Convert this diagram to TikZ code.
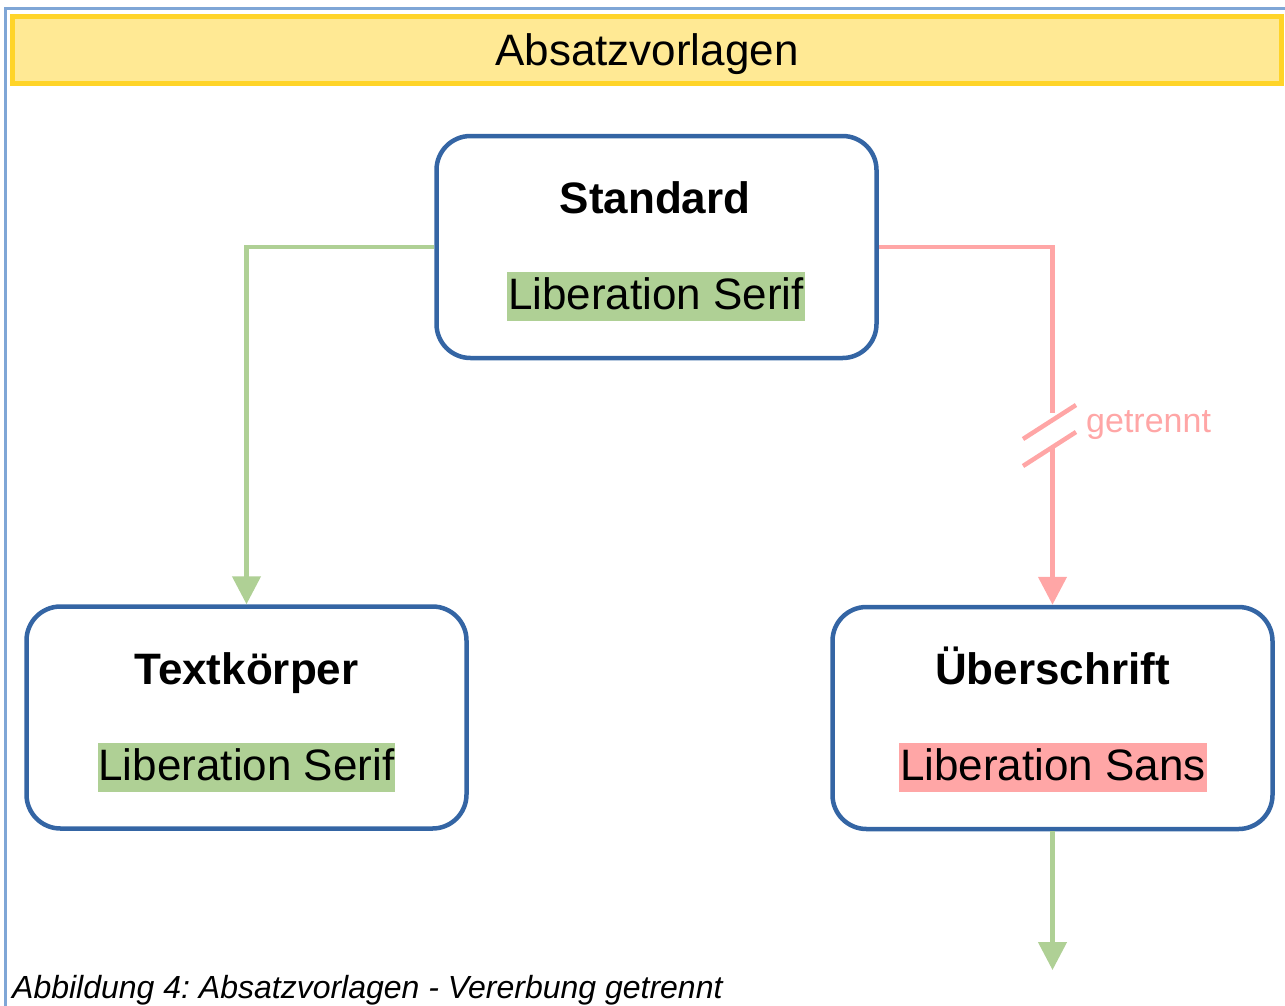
\documentclass[tikz,border=0pt]{standalone}
\usepackage{fontspec}
\setmainfont{Liberation Sans}
\usetikzlibrary{arrows.meta}
\frenchspacing
\definecolor{boxblue}{HTML}{3465A4}
\definecolor{lgreen}{HTML}{AFD095}
\definecolor{lred}{HTML}{FFA6A6}
\definecolor{yfill}{HTML}{FFE994}
\definecolor{ydraw}{HTML}{FFD428}
\definecolor{frameblue}{HTML}{7FA6D6}
\tikzset{
  stylebox/.style={draw=boxblue, line width=4.5pt, rounded corners=34pt, minimum width=440pt, minimum height=222pt, inner sep=0pt},
  boxtitle/.style={anchor=base, font=\fontsize{44}{50}\selectfont\bfseries, inner sep=0pt},
  hl/.style={anchor=base, font=\fontsize{44}{50}\selectfont, inner xsep=1pt, inner ysep=0pt, text height=37pt, text depth=12pt},
  hlgreen/.style={hl, fill=lgreen},
  hlred/.style={hl, fill=lred},
  greenline/.style={draw=lgreen, line width=4.5pt},
  redline/.style={draw=lred, line width=4.5pt},
  tip/.style={-{Triangle[width=28pt,length=28pt]}},
}
\begin{document}
\begin{tikzpicture}[x=1pt,y=-1pt]
\useasboundingbox (0,0) rectangle (1285,1005);
\clip (0,0) rectangle (1285,1005);
% outer frame
\draw[frameblue, line width=2.5pt] (5.5,1010) -- (5.5,8.5) -- (1290,8.5);
% banner
\node[draw=ydraw, fill=yfill, line width=5pt, minimum width=1269pt, minimum height=66.5pt, inner sep=0pt,
      text height=31.5pt, text depth=0pt, font=\fontsize{44}{50}\selectfont] (banner) at (647,49.75) {Absatzvorlagen};
% boxes
\node[stylebox] (std) at (656.5,247) {};
\node[stylebox] (textk) at (246.5,717.5) {};
\node[stylebox] (ueber) at (1052.5,718) {};
% box texts
\node[boxtitle] (stdT) at (655,213) {Standard};
\node[hlgreen] (stdF) at (656,309) {Liberation Serif};
\node[boxtitle] (textkT) at (246.5,684) {Textkörper};
\node[hlgreen] (textkF) at (246.5,780) {Liberation Serif};
\node[boxtitle] (ueberT) at (1052.5,684) {Überschrift};
\node[hlred] (ueberF) at (1053,780) {Liberation Sans};
% connectors
\draw[greenline, tip] (std.west) -| (textk.north);
\coordinate (brkA) at (1052.5,413);
\coordinate (brkB) at (1052.5,448);
\draw[redline] (std.east) -| (brkA);
\draw[redline, tip] (brkB) -- (ueber.north);
\draw[redline] (1023,439) -- (1076,405);
\draw[redline] (1023,466) -- (1076,432);
\node[anchor=base west, inner sep=0pt, text=lred, font=\fontsize{34}{40}\selectfont] (getr) at (1086,432) {getrennt};
\coordinate (outend) at (1052.5,970);
\draw[greenline, tip] (ueber.south) -- (outend);
% caption
\node[anchor=base west, inner sep=0pt, font=\fontsize{32}{38}\selectfont\itshape] (cap) at (12,998) {Abbildung 4: Absatzvorlagen - Vererbung getrennt};
\end{tikzpicture}
\end{document}
